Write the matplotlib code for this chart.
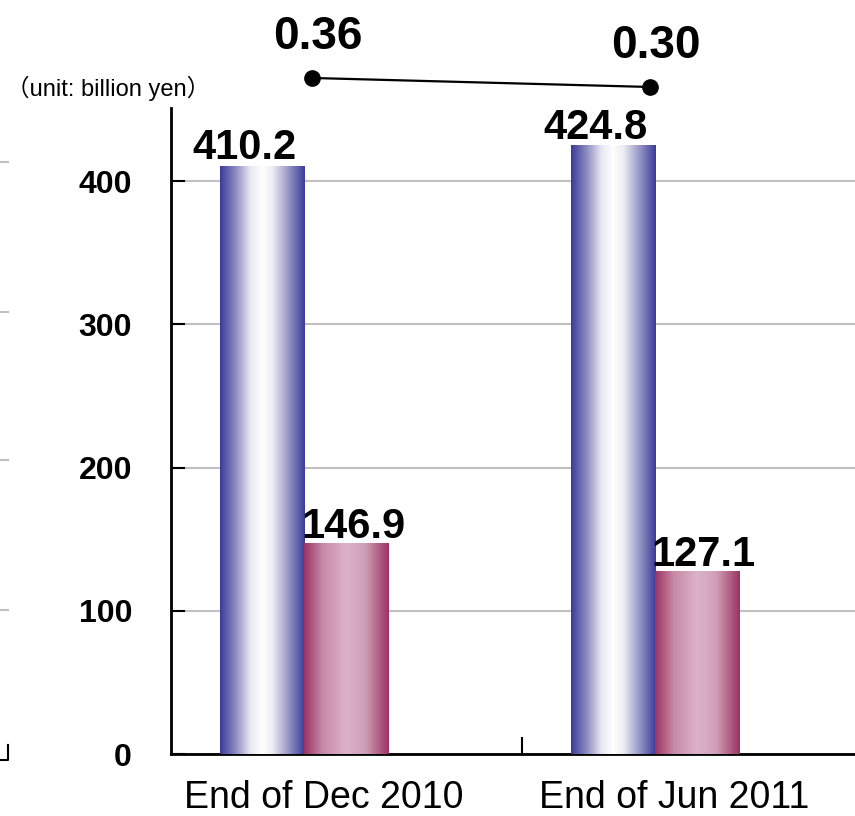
import numpy as np
import matplotlib.pyplot as plt
from matplotlib.colors import LinearSegmentedColormap
from matplotlib.lines import Line2D

plt.rcParams['font.family'] = ['Liberation Sans', 'Noto Sans CJK JP', 'DejaVu Sans']

# data
categories = ["End of Dec 2010", "End of Jun 2011"]
series_a = [410.2, 424.8]
series_b = [146.9, 127.1]
ratio = [0.36, 0.30]
y_ticks = [0, 100, 200, 300, 400]

W, H = 855, 816
fig = plt.figure(figsize=(W / 100, H / 100), dpi=100)

# main bar axes (runs a little past the right edge, as in the cropped original)
ax = fig.add_axes([171 / W, 62 / H, 701 / W, 646 / H])
x = np.arange(len(categories))
bw = 0.24

blue_cmap = LinearSegmentedColormap.from_list(
    "blue", [(0, "#3b3b99"), (0.18, "#8a8ac0"), (0.36, "#e8e8f2"), (0.5, "#ffffff"),
             (0.62, "#ececf4"), (0.8, "#9a9ac8"), (1, "#3b3b99")])
pink_cmap = LinearSegmentedColormap.from_list(
    "pink", [(0, "#9b3363"), (0.22, "#c78aa7"), (0.5, "#dcb3c8"),
             (0.72, "#cf9fb7"), (1, "#9b3363")])

# third slot of each cluster is left empty (the ratio series)
bars_a = ax.bar(x - bw, series_a, bw, color='none', zorder=3)
bars_b = ax.bar(x, series_b, bw, color='none', zorder=3)

grad = np.linspace(0, 1, 256).reshape(1, -1)
for bars, cmap in ((bars_a, blue_cmap), (bars_b, pink_cmap)):
    for p in bars:
        ax.imshow(grad, cmap=cmap, aspect='auto', zorder=3,
                  extent=[p.get_x(), p.get_x() + p.get_width(), 0, p.get_height()])

# value labels
for p, v in zip(bars_a, series_a):
    ax.annotate(f"{v:.1f}", (p.get_x() + p.get_width() / 2 - 0.05, v),
                xytext=(0, 5), textcoords='offset points', ha='center',
                va='baseline', fontsize=30, fontweight='bold', zorder=5)
for p, v in zip(bars_b, series_b):
    ax.annotate(f"{v:.1f}", (p.get_x() + p.get_width() / 2 + 0.02, v),
                xytext=(0, 4), textcoords='offset points', ha='center',
                va='baseline', fontsize=30, fontweight='bold', zorder=5)

ax.set_xlim(-0.5, 1.5)
ax.set_ylim(0, 451)
ax.set_yticks(y_ticks)
ax.set_yticklabels([str(t) for t in y_ticks], fontsize=23, fontweight='bold')
ax.tick_params(axis='y', direction='in', length=10, width=1.5, pad=28)

ax.set_xticks(x - 0.065)
ax.set_xticklabels(categories, fontsize=27)
ax.tick_params(axis='x', which='major', length=0, pad=19)
ax.set_xticks([0.5], minor=True)
ax.tick_params(axis='x', which='minor', direction='in', length=12, width=1.5)

ax.yaxis.grid(True, color='#c0c0c0', linewidth=1.5, zorder=0)
ax.set_axisbelow(True)
for s in ('top', 'right'):
    ax.spines[s].set_visible(False)
for s in ('left', 'bottom'):
    ax.spines[s].set_linewidth(2)

# ratio line on its own axes above the bars
lax = fig.add_axes([143 / W, (H - 120) / H, 676 / W, 80 / H])
lax.set_xlim(-0.5, 1.5)
lax.set_ylim(0.08, 0.613)
lax.axis('off')
lx = np.arange(len(ratio))
lax.plot(lx, ratio, color='black', lw=1.6, marker='o', markersize=11, clip_on=False)
for xi, r in zip(lx, ratio):
    lax.annotate(f"{r:.2f}", (xi, r), xytext=(4, 21), textcoords='offset points',
                 ha='center', va='baseline', fontsize=33, fontweight='bold',
                 annotation_clip=False)

fig.text(6 / W, 1 - 88 / H, "（unit: billion yen）", fontsize=17,
         ha='left', va='center')

# edge of the neighbouring chart, cropped at the left border
for yp in (162, 312, 460, 610):
    fig.add_artist(Line2D([0, 8 / W], [1 - yp / H] * 2, color='#c0c0c0', lw=1.5))
fig.add_artist(Line2D([0, 8 / W, 8 / W], [1 - 760 / H, 1 - 760 / H, 1 - 745 / H],
                      color='black', lw=1.5))

fig.savefig("out.png", dpi=100)
